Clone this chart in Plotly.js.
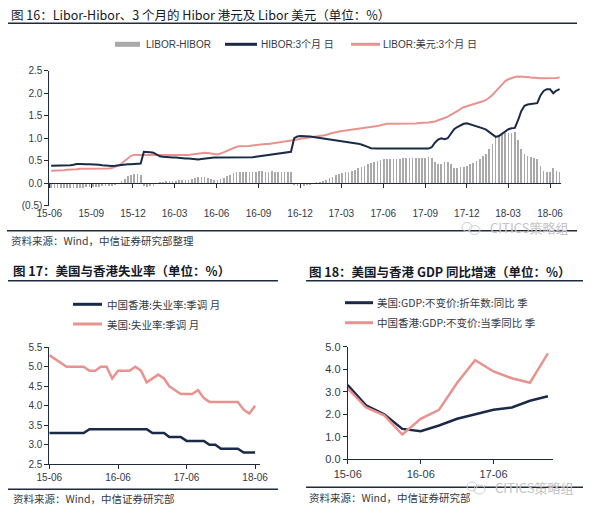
<!DOCTYPE html>
<html>
<head>
<meta charset="utf-8">
<script src="https://cdn.plot.ly/plotly-3.0.1.min.js"></script>
<style>html,body{margin:0;padding:0;background:#fff}#chart{width:613px;height:517px}</style>
</head>
<body>
<div id="chart"></div>
<script>
// ---------- Figure 16: weekly data, 2015-06-05 .. 2018-06-22 ----------
const weeklyStart = '2015-06-05';
const fig16TickVals = ['2015-06-01','2015-09-01','2015-12-01','2016-03-01','2016-06-01','2016-09-01','2016-12-01','2017-03-01','2017-06-01','2017-09-01','2017-12-01','2018-03-01','2018-06-01'];
const fig16TickText = ['15-06','15-09','15-12','16-03','16-06','16-09','16-12','17-03','17-06','17-09','17-12','18-03','18-06'];
const fig16YTickVals = [-0.5,0,0.5,1,1.5,2,2.5];
const fig16YTickText = ['(0.5)','0.0','0.5','1.0','1.5','2.0','2.5'];

const hibor3m = [
0.39,0.39,0.39,0.39,0.39,0.40,0.40,0.41,0.43,0.43,
0.42,0.42,0.42,0.42,0.41,0.41,0.40,0.39,0.39,0.385,
0.39,0.40,0.40,0.41,0.42,0.42,0.43,0.44,0.44,0.70,
0.70,0.69,0.68,0.63,0.60,0.59,0.58,0.57,0.57,0.57,
0.56,0.56,0.55,0.55,0.54,0.54,0.53,0.54,0.55,0.56,
0.56,0.57,0.57,0.57,0.57,0.57,0.57,0.57,0.57,0.57,
0.57,0.57,0.58,0.58,0.59,0.60,0.61,0.62,0.62,0.63,
0.65,0.66,0.67,0.68,0.69,0.70,1.00,1.04,1.05,1.05,
1.04,1.04,1.03,1.02,1.01,1.00,0.99,0.98,0.97,0.96,
0.95,0.94,0.93,0.92,0.91,0.90,0.88,0.86,0.84,0.81,
0.78,0.77,0.77,0.77,0.77,0.77,0.78,0.78,0.77,0.77,
0.77,0.77,0.77,0.77,0.77,0.77,0.77,0.77,0.77,0.80,
0.90,0.97,1.00,0.98,1.00,1.10,1.20,1.25,1.29,1.32,
1.33,1.31,1.29,1.27,1.25,1.22,1.19,1.14,1.08,1.03,
1.05,1.10,1.15,1.20,1.22,1.23,1.40,1.60,1.72,1.75,
1.76,1.77,1.78,1.95,2.05,2.09,2.09,2.00,2.06,2.09
];
const libor3m = [
0.28,0.28,0.29,0.29,0.29,0.30,0.30,0.31,0.31,0.32,
0.32,0.33,0.33,0.33,0.33,0.33,0.33,0.33,0.33,0.34,
0.36,0.39,0.44,0.50,0.57,0.61,0.63,0.63,0.63,0.63,
0.62,0.62,0.62,0.62,0.62,0.62,0.62,0.63,0.63,0.63,
0.63,0.63,0.63,0.63,0.64,0.65,0.67,0.68,0.68,0.67,
0.66,0.64,0.64,0.66,0.69,0.73,0.76,0.79,0.81,0.82,
0.82,0.83,0.83,0.84,0.85,0.86,0.86,0.87,0.87,0.88,
0.89,0.90,0.92,0.93,0.94,0.95,0.96,0.97,0.99,1.00,
1.00,1.01,1.02,1.04,1.04,1.05,1.07,1.10,1.12,1.14,
1.15,1.16,1.17,1.18,1.19,1.20,1.21,1.22,1.22,1.23,
1.24,1.25,1.27,1.29,1.31,1.32,1.32,1.32,1.32,1.32,
1.33,1.33,1.33,1.33,1.33,1.34,1.34,1.34,1.35,1.36,
1.37,1.40,1.42,1.45,1.48,1.52,1.55,1.60,1.65,1.69,
1.71,1.73,1.75,1.77,1.79,1.82,1.85,1.90,1.96,2.04,
2.12,2.20,2.27,2.31,2.34,2.36,2.37,2.37,2.37,2.36,
2.35,2.34,2.33,2.33,2.33,2.33,2.34,2.34,2.34,2.35
];
const liborMinusHibor = [
-0.10,-0.10,-0.10,-0.10,-0.10,-0.10,-0.10,-0.10,-0.11,-0.10,
-0.10,-0.09,-0.09,-0.09,-0.08,-0.08,-0.07,-0.06,-0.06,-0.05,
-0.03,0.01,0.05,0.10,0.16,0.19,0.21,0.20,0.19,-0.07,
-0.08,-0.07,-0.06,-0.01,0.02,0.03,0.04,0.06,0.06,0.06,
0.07,0.07,0.08,0.08,0.10,0.11,0.14,0.14,0.13,0.11,
0.10,0.07,0.07,0.09,0.12,0.16,0.19,0.22,0.24,0.25,
0.25,0.26,0.25,0.26,0.26,0.27,0.27,0.26,0.26,0.27,
0.25,0.25,0.25,0.25,0.25,0.25,-0.04,-0.07,-0.06,-0.05,
-0.04,-0.03,-0.01,0.02,0.03,0.05,0.08,0.12,0.15,0.18,
0.20,0.22,0.24,0.26,0.28,0.30,0.33,0.36,0.38,0.42,
0.46,0.48,0.50,0.52,0.54,0.55,0.54,0.54,0.55,0.55,
0.56,0.56,0.56,0.56,0.56,0.57,0.57,0.57,0.58,0.56,
0.47,0.43,0.42,0.47,0.48,0.42,0.35,0.35,0.36,0.37,
0.38,0.42,0.46,0.50,0.54,0.60,0.66,0.76,0.88,1.01,
1.07,1.10,1.12,1.11,1.12,1.13,0.97,0.77,0.65,0.61,
0.59,0.57,0.55,0.38,0.28,0.24,0.25,0.34,0.28,0.26
];

// ---------- Figure 17: monthly unemployment 2015-06 .. 2018-06 ----------
const fig17TickVals = ['2015-06-01','2016-06-01','2017-06-01','2018-06-01'];
const fig17TickText = ['15-06','16-06','17-06','18-06'];
const hkUnemp = [3.3,3.3,3.3,3.3,3.3,3.3,3.3,3.4,3.4,3.4,3.4,3.4,3.4,3.4,3.4,3.4,3.4,3.4,3.3,3.3,3.3,3.2,3.2,3.2,3.1,3.1,3.1,3.1,3.0,3.0,2.9,2.9,2.9,2.9,2.8,2.8,2.8];
const usUnemp = [5.3,5.2,5.1,5.0,5.0,5.0,5.0,4.9,4.9,5.0,5.0,4.7,4.9,4.9,4.9,5.0,4.9,4.6,4.7,4.8,4.7,4.5,4.4,4.3,4.3,4.3,4.4,4.2,4.1,4.1,4.1,4.1,4.1,4.1,3.9,3.8,4.0];

// ---------- Figure 18: quarterly GDP yoy ----------
const gdpQuarters = ['2015-06-01','2015-09-01','2015-12-01','2016-03-01','2016-06-01','2016-09-01','2016-12-01','2017-03-01','2017-06-01','2017-09-01','2017-12-01','2018-03-01'];
const fig18TickVals = ['2015-06-01','2016-06-01','2017-06-01'];
const fig18TickText = ['15-06','16-06','17-06'];
const usGdp = [3.3,2.4,2.0,1.35,1.25,1.5,1.8,2.0,2.2,2.3,2.6,2.8];
const hkGdp = [3.15,2.3,1.95,1.1,1.8,2.2,3.4,4.4,3.9,3.6,3.4,4.7];

// ---------- helpers ----------
function weeklyDates(start, n){
  const p = start.split('-').map(Number);
  const t0 = Date.UTC(p[0], p[1]-1, p[2]);
  const out = [];
  for (let i=0;i<n;i++) out.push(new Date(t0 + i*7*864e5).toISOString().slice(0,10));
  return out;
}
function monthlyDates(y, m, n){
  const out = [];
  for (let i=0;i<n;i++){ const d = new Date(Date.UTC(y, m-1+i, 1)); out.push(d.toISOString().slice(0,10)); }
  return out;
}
const W = 613, H = 517;
const px = x => x / W;
const py = y => 1 - y / H;

const NAVY = '#1b2a47';
const PINK = '#e8938f';
const GRAY = '#a9a9a9';
const AXIS = '#1f2a3e';
const TXT = '#333a46';
const FONT = 'Liberation Sans, Arial, Noto Sans CJK SC, sans-serif';
const CJK = 'Noto Sans CJK SC, Liberation Sans, sans-serif';

const weeks = weeklyDates(weeklyStart, hibor3m.length);
const months = monthlyDates(2015, 6, hkUnemp.length);

const traces = [
  {type:'bar', x:weeks, y:liborMinusHibor, width:3.6*864e5, marker:{color:GRAY, line:{width:0}}, xaxis:'x', yaxis:'y', hoverinfo:'skip'},
  {type:'scatter', mode:'lines', x:weeks, y:libor3m, line:{color:PINK, width:2}, xaxis:'x', yaxis:'y'},
  {type:'scatter', mode:'lines', x:weeks, y:hibor3m, line:{color:NAVY, width:2}, xaxis:'x', yaxis:'y'},
  {type:'scatter', mode:'lines', x:months, y:hkUnemp, line:{color:NAVY, width:2.5}, xaxis:'x2', yaxis:'y2'},
  {type:'scatter', mode:'lines', x:months, y:usUnemp, line:{color:PINK, width:2.5}, xaxis:'x2', yaxis:'y2'},
  {type:'scatter', mode:'lines', x:gdpQuarters, y:usGdp, line:{color:NAVY, width:2.5}, xaxis:'x3', yaxis:'y3'},
  {type:'scatter', mode:'lines', x:gdpQuarters, y:hkGdp, line:{color:PINK, width:2.5}, xaxis:'x3', yaxis:'y3'}
];

const axBase = {showgrid:false, zeroline:false, showline:true, linecolor:AXIS, linewidth:1, ticks:'outside', ticklen:4, tickcolor:AXIS, tickwidth:1, fixedrange:true};

const layout = {
  width:W, height:H, margin:{l:0,r:0,t:0,b:0}, paper_bgcolor:'#fff', plot_bgcolor:'rgba(0,0,0,0)',
  showlegend:false, bargap:0,
  font:{family:FONT, color:TXT, size:10},
  xaxis: Object.assign({}, axBase, {type:'date', domain:[px(49.3), px(561)], range:['2015-06-01','2018-06-25'],
    anchor:'free', position:py(183.3), tickvals:fig16TickVals, ticktext:fig16TickText,
    ticklabelstandoff:17, tickfont:{size:10, color:TXT}}),
  yaxis: Object.assign({}, axBase, {domain:[py(205.8), py(70.7)], range:[-0.5,2.5], anchor:'x',
    tickvals:fig16YTickVals, ticktext:fig16YTickText, tickfont:{size:10, color:TXT}}),
  xaxis2: Object.assign({}, axBase, {type:'date', domain:[px(49.3), px(260)], range:['2015-06-01','2018-06-27'], anchor:'y2',
    tickvals:fig17TickVals, ticktext:fig17TickText, tickfont:{size:10, color:TXT}}),
  yaxis2: Object.assign({}, axBase, {domain:[py(464.3), py(347.3)], range:[2.5,5.5], anchor:'x2',
    tickvals:[2.5,3,3.5,4,4.5,5,5.5], ticktext:['2.5','3.0','3.5','4.0','4.5','5.0','5.5'], tickfont:{size:10, color:TXT}}),
  xaxis3: Object.assign({}, axBase, {type:'date', domain:[px(347.7), px(553.3)], range:['2015-06-01','2018-03-28'], anchor:'y3',
    tickvals:fig18TickVals, ticktext:fig18TickText, tickfont:{size:11, color:TXT}}),
  yaxis3: Object.assign({}, axBase, {domain:[py(459.3), py(346.7)], range:[0,5], anchor:'x3',
    tickvals:[0,1,2,3,4,5], ticktext:['0.0','1.0','2.0','3.0','4.0','5.0'], tickfont:{size:11, color:TXT}}),
  shapes: [],
  annotations: []
};

function hline(x0, x1, y, color, width){
  layout.shapes.push({type:'line', xref:'paper', yref:'paper', x0:px(x0), x1:px(x1), y0:py(y), y1:py(y), line:{color:color, width:width}});
}
function label(text, x, y, size, opts){
  opts = opts || {};
  layout.annotations.push({text:text, xref:'paper', yref:'paper', x:px(x), y:py(y), xanchor:opts.xanchor||'left', yanchor:'middle',
    showarrow:false, font:{family:opts.family||CJK, size:size, color:opts.color||TXT}});
}

// Titles and rules
label('图 16：Libor-Hibor、3 个月的 Hibor 港元及 Libor 美元（单位：%）', 9, 14, 12.5, {color:'#141a26'});
hline(8, 577, 23.3, AXIS, 1.5);
label('<b>图 17：美国与香港失业率（单位：%）</b>', 11, 270, 12.5, {color:'#141a26'});
hline(8, 278, 280.7, AXIS, 1.5);
label('<b>图 18：美国与香港 GDP 同比增速（单位：%）</b>', 307, 271, 12.5, {color:'#141a26'});
hline(306, 583, 280.7, AXIS, 1.5);

// Legends
hline(115, 140, 44.3, GRAY, 5);
label('LIBOR-HIBOR', 144, 44.3, 10, {family:FONT});
hline(225, 257, 44.3, NAVY, 3);
label('HIBOR:3个月 日', 259, 44.3, 10, {family:FONT});
hline(351, 380, 44.3, PINK, 3);
label('LIBOR:美元:3个月 日', 381, 44.3, 10, {family:FONT});

hline(73, 102, 304.3, NAVY, 3);
label('中国香港:失业率:季调 月', 105, 304.3, 10.5);
hline(73, 102, 324, PINK, 3);
label('美国:失业率:季调 月', 105, 324, 10.5);

hline(345, 373, 302.7, NAVY, 3);
label('美国:GDP:不变价:折年数:同比 季', 375, 302.7, 10.5);
hline(345, 373, 322.7, PINK, 3);
label('中国香港:GDP:不变价:当季同比 季', 375, 322.7, 10.5);

// Sources
hline(7, 577, 230.7, AXIS, 1.5);
label('资料来源：Wind，中信证券研究部整理', 9, 240.7, 10.5);
hline(8, 278, 489.3, AXIS, 1.5);
label('资料来源：Wind，中信证券研究部', 11, 498.3, 10.5);
hline(306, 583, 487.3, AXIS, 1.5);
label('资料来源：Wind，中信证券研究部', 307, 497.3, 10.5);

// Watermarks
function watermark(x, y){
  layout.shapes.push({type:'circle', xref:'paper', yref:'paper', x0:px(x-26), x1:px(x-16), y0:py(y+4), y1:py(y-5), line:{color:'#cfcfcf', width:1}});
  layout.shapes.push({type:'circle', xref:'paper', yref:'paper', x0:px(x-19), x1:px(x-8), y0:py(y+7), y1:py(y-2), line:{color:'#cfcfcf', width:1}});
  label('CITICS策略组', x, y, 13, {color:'#c4c4c4'});
}
watermark(488, 227.5);
watermark(493, 487);

Plotly.newPlot('chart', traces, layout, {displayModeBar:false, staticPlot:true});
</script>
</body>
</html>
